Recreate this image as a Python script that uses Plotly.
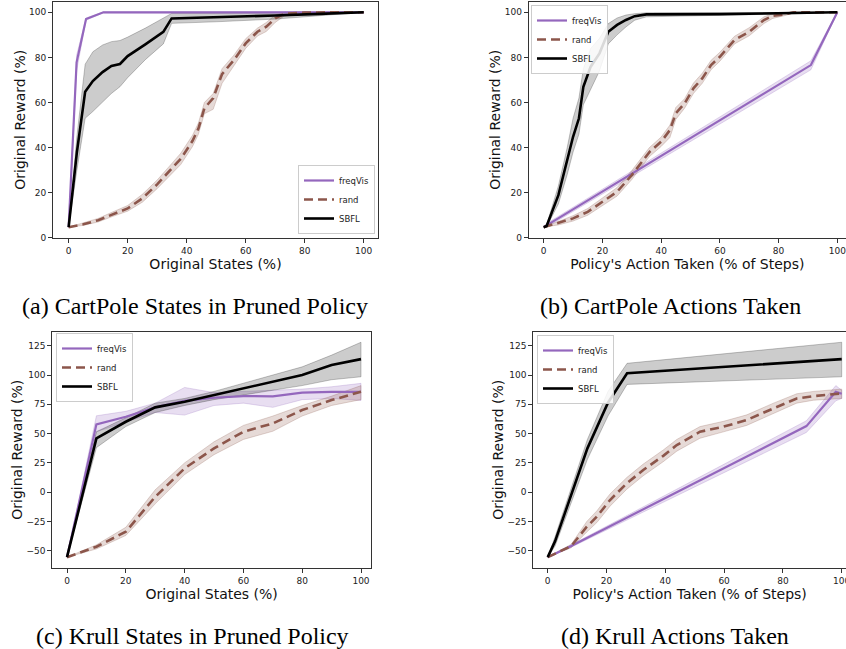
import plotly.graph_objects as go

# ---------------- data ----------------
SERIES = ["freqVis", "rand", "SBFL"]
CAPTIONS = ["(a) CartPole States in Pruned Policy", "(b) CartPole Actions Taken",
            "(c) Krull States in Pruned Policy", "(d) Krull Actions Taken"]
X_TITLES = ["Original States (%)", "Policy's Action Taken (% of Steps)",
            "Original States (%)", "Policy's Action Taken (% of Steps)"]
Y_TITLE = "Original Reward (%)"
TICKS_TOP = [0, 20, 40, 60, 80, 100]
TICKS_BOTTOM_Y = [-50, -25, 0, 25, 50, 75, 100, 125]

# (a) CartPole states
A_FREQ_X = [0, 2.7, 5.9, 11.8, 100]
A_FREQ = [4.7, 77.8, 97.0, 100, 100]
A_FREQ_LO = [4.7, 74.0, 96.5, 99.8, 99.8]
A_FREQ_HI = [4.7, 81.0, 97.5, 100.2, 100.2]
A_RAND_X = [0, 5, 10, 15, 20, 25, 30, 35, 38, 42, 44, 46, 49, 52, 56, 60, 64, 67, 70, 73, 80, 90, 100]
A_RAND = [4.7, 6.0, 7.8, 10.5, 13.0, 17.5, 23.7, 30.8, 35.0, 43.0, 48.5, 57.4, 62.0, 72.6, 78.8, 86.2, 91.4, 93.6, 97.3, 99.3, 99.9, 100, 100]
A_RAND_LO = [4.7, 5.5, 7.0, 9.5, 11.8, 15.8, 21.8, 28.5, 32.5, 40.5, 46.0, 55.0, 57.0, 68.5, 76.0, 84.0, 89.5, 91.5, 95.5, 98.3, 99.5, 99.8, 100]
A_RAND_HI = [4.7, 6.5, 8.6, 11.5, 14.3, 19.3, 25.6, 33.0, 37.5, 45.5, 51.0, 60.0, 64.0, 75.0, 81.0, 88.3, 93.0, 95.5, 98.8, 100, 100.2, 100.2, 100]
A_SBFL_X = [0, 2.8, 5.6, 8.2, 11.5, 14.5, 17.4, 20, 26, 32.1, 34.9, 50, 70, 85, 100]
A_SBFL = [4.7, 38.0, 64.8, 69.5, 73.5, 76.2, 77.1, 80.6, 85.8, 91.3, 97.3, 97.8, 98.6, 99.3, 100]
A_SBFL_LO = [4.7, 30.0, 53.0, 56.0, 60.0, 64.0, 67.0, 71.0, 79.0, 86.0, 95.1, 95.8, 97.0, 98.5, 100]
A_SBFL_HI = [4.7, 45.0, 77.0, 82.5, 85.5, 87.0, 87.5, 89.0, 93.0, 97.5, 99.5, 99.7, 99.8, 99.9, 100]

# (b) CartPole actions
B_FREQ_X = [0, 1, 91, 100]
B_FREQ = [4.7, 5.5, 76.6, 100]
B_FREQ_LO = [4.7, 4.7, 74.5, 99.8]
B_FREQ_HI = [4.7, 6.3, 78.5, 100.2]
B_RAND_X = [0, 5, 10, 15, 20, 25, 30, 33, 36, 40, 43, 45, 48, 51, 54, 57, 60, 65, 70, 75, 78, 82, 85, 100]
B_RAND = [4.7, 6.5, 8.6, 11.5, 16.0, 20.4, 27.8, 33.0, 38.0, 42.6, 47.8, 55.2, 59.6, 66.3, 70.7, 76.6, 80.3, 87.7, 91.4, 96.6, 98.4, 99.1, 100, 100]
B_RAND_LO = [4.7, 5.7, 7.4, 10.0, 14.2, 18.5, 25.8, 31.0, 36.0, 40.5, 44.5, 52.5, 57.5, 64.0, 68.5, 74.5, 78.3, 86.0, 89.6, 95.0, 97.3, 98.5, 99.7, 100]
B_RAND_HI = [4.7, 7.3, 9.8, 13.0, 17.8, 22.3, 29.8, 35.0, 40.0, 44.7, 50.0, 57.8, 61.7, 68.6, 73.0, 78.7, 82.3, 89.4, 93.2, 98.0, 99.4, 99.8, 100.2, 100]
B_SBFL_X = [0, 1, 5, 8, 10, 12, 13.5, 16, 19, 22, 25, 28, 31, 35, 60, 90, 100]
B_SBFL = [4.7, 5.2, 18.9, 34.5, 44.8, 53.0, 67.0, 75.9, 81.8, 91.4, 94.4, 96.6, 98.3, 99.1, 99.2, 99.8, 100]
B_SBFL_LO = [4.7, 4.8, 15.0, 28.0, 38.0, 46.0, 59.0, 66.0, 74.0, 86.0, 90.0, 93.5, 96.5, 98.0, 98.5, 99.5, 100]
B_SBFL_HI = [4.7, 5.8, 23.0, 40.0, 53.0, 62.0, 75.0, 84.0, 88.5, 95.0, 97.5, 98.8, 99.4, 99.8, 99.8, 99.9, 100]

# (c) Krull states
C_X = [0, 10, 20, 30, 40, 50, 60, 70, 80, 90, 100]
C_FREQ = [-55.5, 57.9, 64.4, 72.4, 78.0, 80.6, 82.0, 81.8, 84.9, 85.7, 85.7]
C_FREQ_LO = [-55.5, 51.6, 60.0, 68.0, 65.8, 74.0, 76.0, 72.4, 79.0, 80.0, 78.3]
C_FREQ_HI = [-55.5, 65.2, 69.0, 76.0, 89.4, 85.0, 86.0, 87.0, 88.0, 90.0, 92.9]
C_RAND = [-55.5, -46.6, -33.8, -4.0, 20.3, 37.4, 51.6, 58.7, 70.1, 78.6, 85.7]
C_RAND_LO = [-55.5, -48.5, -37.0, -10.0, 15.0, 32.0, 45.0, 52.0, 65.0, 74.0, 79.0]
C_RAND_HI = [-55.5, -45.0, -30.0, 2.0, 25.0, 43.0, 57.0, 65.0, 74.0, 82.0, 91.0]
C_SBFL = [-55.5, 45.9, 60.1, 72.4, 77.2, 82.9, 88.6, 94.3, 100.0, 108.5, 113.6]
C_SBFL_LO = [-55.5, 38.0, 56.0, 68.0, 74.0, 79.0, 83.0, 87.0, 91.0, 96.0, 98.5]
C_SBFL_HI = [-55.5, 51.6, 63.5, 76.0, 80.0, 86.0, 93.0, 100.0, 107.0, 117.0, 128.0]

# (d) Krull actions
D_FREQ_X = [0, 8, 88, 98, 100]
D_FREQ = [-55.5, -46.0, 56.4, 85.7, 84.0]
D_FREQ_LO = [-55.5, -47.0, 51.0, 78.0, 80.0]
D_FREQ_HI = [-55.5, -45.0, 61.0, 91.0, 87.0]
D_RAND_X = [0, 8, 13.3, 16.7, 21.2, 26.9, 32.5, 39.3, 43.9, 51.8, 59.8, 67.7, 76.8, 84.7, 90.4, 100]
D_RAND = [-55.5, -46.0, -29.5, -21.0, -6.7, 7.5, 18.9, 31.0, 40.2, 51.6, 55.9, 61.6, 71.5, 80.0, 82.0, 84.3]
D_RAND_LO = [-55.5, -47.5, -34.0, -26.0, -12.0, 2.5, 14.0, 26.0, 35.0, 46.0, 51.5, 57.0, 67.0, 76.0, 78.5, 80.0]
D_RAND_HI = [-55.5, -44.5, -25.0, -16.0, -1.5, 12.5, 24.0, 36.0, 45.0, 56.0, 60.5, 66.0, 76.0, 84.0, 86.0, 88.0]
D_SBFL_X = [0, 2.5, 13.5, 20.5, 27, 100]
D_SBFL = [-55.5, -42.0, 37.4, 76.4, 101.5, 113.6]
D_SBFL_LO = [-55.5, -46.0, 28.0, 65.0, 92.0, 98.5]
D_SBFL_HI = [-55.5, -38.0, 45.0, 86.0, 110.0, 128.0]

# ---------------- styling ----------------
COLORS = {"freqVis": "#9467bd", "rand": "#8c564b", "SBFL": "#000000"}
FILLS = {"freqVis": "rgba(148,103,189,0.22)", "rand": "rgba(140,86,75,0.22)", "SBFL": "rgba(0,0,0,0.2)"}
EDGES = {"freqVis": "rgba(148,103,189,0.3)", "rand": "rgba(140,86,75,0.3)", "SBFL": "rgba(0,0,0,0.28)"}
WIDTHS = {"freqVis": 2.2, "rand": 2.6, "SBFL": 2.6}
DASH = {"freqVis": "solid", "rand": "9px,5px", "SBFL": "solid"}

PANELS = [
    {"freqVis": (A_FREQ_X, A_FREQ, A_FREQ_LO, A_FREQ_HI),
     "rand": (A_RAND_X, A_RAND, A_RAND_LO, A_RAND_HI),
     "SBFL": (A_SBFL_X, A_SBFL, A_SBFL_LO, A_SBFL_HI)},
    {"freqVis": (B_FREQ_X, B_FREQ, B_FREQ_LO, B_FREQ_HI),
     "rand": (B_RAND_X, B_RAND, B_RAND_LO, B_RAND_HI),
     "SBFL": (B_SBFL_X, B_SBFL, B_SBFL_LO, B_SBFL_HI)},
    {"freqVis": (C_X, C_FREQ, C_FREQ_LO, C_FREQ_HI),
     "rand": (C_X, C_RAND, C_RAND_LO, C_RAND_HI),
     "SBFL": (C_X, C_SBFL, C_SBFL_LO, C_SBFL_HI)},
    {"freqVis": (D_FREQ_X, D_FREQ, D_FREQ_LO, D_FREQ_HI),
     "rand": (D_RAND_X, D_RAND, D_RAND_LO, D_RAND_HI),
     "SBFL": (D_SBFL_X, D_SBFL, D_SBFL_LO, D_SBFL_HI)},
]

W, H = 846, 649
X_DOMAINS = [[53 / W, 378 / W], [528.7 / W, 1.0], [52.3 / W, 371 / W], [533.3 / W, 1.0]]
Y_DOMAINS = [[(H - 238) / H, (H - 1.5) / H], [(H - 238) / H, (H - 1.5) / H],
             [(H - 567.7) / H, (H - 331.7) / H], [(H - 567.7) / H, (H - 331.7) / H]]
X_RANGES = [[-5.3, 104.85], [-5.11, 102.96], [-5.0, 103.4], [-4.9, 101.46]]
Y_RANGES = [[-0.1, 104.8], [-0.1, 104.8], [-64.5, 137.0], [-64.5, 137.0]]
LEGEND_POS = [dict(x=375 / W, y=(H - 234) / H, xanchor="right", yanchor="bottom"),
              dict(x=531 / W, y=(H - 5) / H, xanchor="left", yanchor="top"),
              dict(x=56 / W, y=(H - 333) / H, xanchor="left", yanchor="top"),
              dict(x=537 / W, y=(H - 335) / H, xanchor="left", yanchor="top")]
CAPTION_POS = [(195 / W, (H - 305.5) / H), (670 / W, (H - 305.5) / H),
               (192 / W, (H - 635.5) / H), (675 / W, (H - 635.5) / H)]

fig = go.Figure()
layout = dict(width=W, height=H, margin=dict(l=0, r=0, t=0, b=0, autoexpand=False),
              paper_bgcolor="white", plot_bgcolor="white", showlegend=True,
              font=dict(family="DejaVu Sans", color="#222"))

for i, panel in enumerate(PANELS):
    sfx = "" if i == 0 else str(i + 1)
    xa, ya = "x" + sfx, "y" + sfx
    leg = "legend" + sfx
    for name in SERIES:
        x, y, lo, hi = panel[name]
        fig.add_trace(go.Scatter(
            x=list(x) + list(x)[::-1], y=list(hi) + list(lo)[::-1],
            fill="toself", fillcolor=FILLS[name], mode="lines",
            line=dict(color=EDGES[name], width=0.8),
            hoverinfo="skip", showlegend=False, xaxis=xa, yaxis=ya))
    for name in SERIES:
        x, y, lo, hi = panel[name]
        fig.add_trace(go.Scatter(
            x=x, y=y, mode="lines", name=name,
            line=dict(color=COLORS[name], width=WIDTHS[name], dash=DASH[name]),
            xaxis=xa, yaxis=ya, legend=leg))
    right_cut = i in (1, 3)
    yticks = TICKS_TOP if i < 2 else TICKS_BOTTOM_Y
    layout["xaxis" + sfx] = dict(
        domain=X_DOMAINS[i], anchor=ya, range=X_RANGES[i], tickvals=TICKS_TOP,
        automargin=False,
        showgrid=False, zeroline=False, showline=True, linecolor="#333", linewidth=1,
        mirror=True, ticks="outside", ticklen=4, tickwidth=1, tickcolor="#333",
        tickfont=dict(size=9, color="#222"), ticklabeloverflow="allow",
        title=dict(text=X_TITLES[i], font=dict(size=14, color="#111"), standoff=4))
    layout["yaxis" + sfx] = dict(
        domain=Y_DOMAINS[i], anchor=xa, range=Y_RANGES[i], tickvals=yticks,
        automargin=False,
        showgrid=False, zeroline=False, showline=True, linecolor="#333", linewidth=1,
        mirror=(not right_cut), ticks="outside", ticklen=4, tickwidth=1, tickcolor="#333",
        tickfont=dict(size=9, color="#222"),
        title=dict(text=Y_TITLE, font=dict(size=14, color="#111"), standoff=0))
    layout[leg] = dict(**LEGEND_POS[i], bgcolor="rgba(255,255,255,0.85)",
                       bordercolor="#cccccc", borderwidth=1,
                       font=dict(size=8.5, color="#222"), tracegroupgap=0)

annotations = []
for (cx, cy), cap in zip(CAPTION_POS, CAPTIONS):
    annotations.append(dict(text=cap, x=cx, y=cy, xref="paper", yref="paper",
                            xanchor="center", yanchor="middle", showarrow=False,
                            font=dict(family="Liberation Serif, Times New Roman, serif",
                                      size=24, color="#000")))
layout["annotations"] = annotations
fig.update_layout(**layout)

fig.write_html("out.html", config={"displayModeBar": False},
               post_script="document.body.style.margin='0px';document.body.style.overflow='hidden';")
